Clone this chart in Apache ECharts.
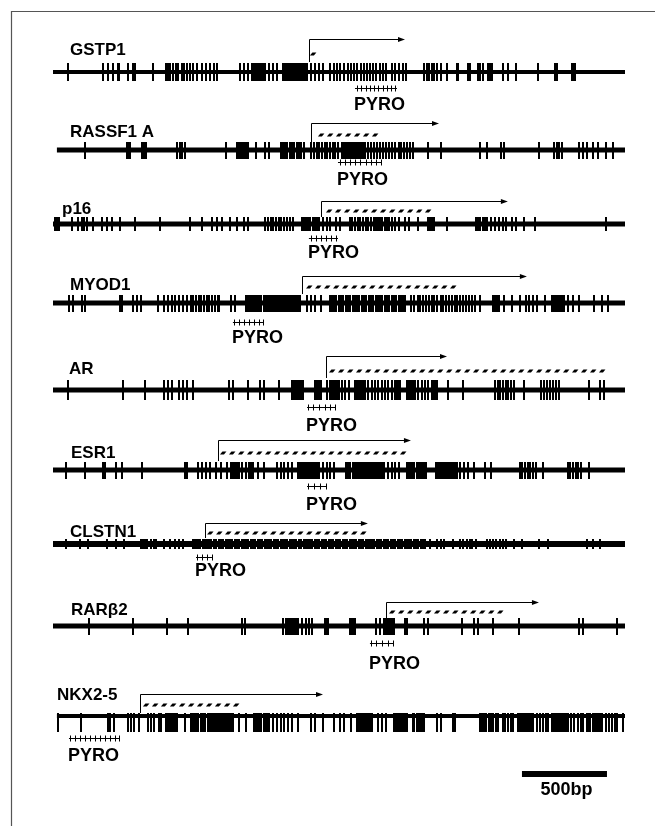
<!DOCTYPE html>
<html><head><meta charset="utf-8">
<script src="https://cdn.jsdelivr.net/npm/echarts@6/dist/echarts.min.js"></script>
<style>html,body{margin:0;padding:0;background:#fff}#c{width:655px;height:826px}</style>
</head><body><div id="c"></div>
<script>
// ---------------- DATA (positions in bp along each promoter region) ----------------
const genes = ['GSTP1', 'RASSF1 A', 'p16', 'MYOD1', 'AR', 'ESR1', 'CLSTN1', 'RARβ2', 'NKX2-5'];
const regionStart = [0, 23, 0, 0, 0, 0, 0, 0, 23];
const regionEnd   = [3364, 3364, 3364, 3364, 3364, 3364, 3364, 3364, 3364];
const tss       = [1503, 1517, 1576, 1464, 1605, 970, 894, 1958, 512];
const arrowEnd  = [2070, 2270, 2675, 2787, 2317, 2105, 1852, 2858, 1588];
const islandStart = [1505, 1552, 1599, 1482, 1617, 976, 900, 1970, 523];
const islandEnd   = [1545, 1923, 2264, 2393, 3252, 2093, 1846, 2675, 1094];
const pyroStart = [1776, 1676, 1505, 1058, 1494, 1494, 841, 1864, 94];
const pyroEnd   = [2023, 1934, 1676, 1235, 1664, 1611, 935, 2005, 394];
const pyroSites = [
  [1790, 1812, 1838, 1862, 1890, 1914, 1940, 1964, 1990, 2012],
  [1688, 1717, 1746, 1776, 1805, 1840, 1870, 1899, 1929],
  [1517, 1546, 1576, 1605, 1635, 1664],
  [1064, 1094, 1123, 1152, 1182, 1211, 1235],
  [1499, 1529, 1564, 1599, 1629, 1658],
  [1499, 1535, 1570, 1605],
  [847, 876, 906, 935],
  [1870, 1899, 1935, 1970, 1999],
  [100, 129, 159, 188, 218, 247, 276, 306, 335, 365, 388]
];
const cpgGSTP1 = [90, 296, 325, 351, 380, 387, 443, 472, 482, 590, 663, 669, 675, 682, 688, 704, 721, 737, 757, 770, 786, 806, 825, 845, 877, 900, 922, 945, 967, 1102, 1125, 1147, 1170, 1181, 1192, 1204, 1215, 1226, 1237, 1249, 1271, 1294, 1316, 1350, 1361, 1372, 1384, 1395, 1406, 1417, 1429, 1440, 1451, 1462, 1474, 1485, 1496, 1519, 1541, 1564, 1586, 1631, 1654, 1672, 1688, 1710, 1733, 1755, 1771, 1789, 1811, 1829, 1845, 1867, 1883, 1901, 1924, 1942, 1958, 1991, 2014, 2036, 2059, 2077, 2183, 2198, 2212, 2228, 2243, 2261, 2284, 2318, 2374, 2383, 2438, 2445, 2452, 2497, 2511, 2531, 2558, 2569, 2580, 2649, 2675, 2722, 2850, 2952, 2962, 3050, 3060, 3069];
const cpgRASSF1A = [187, 434, 443, 450, 524, 536, 547, 727, 749, 761, 776, 1019, 1080, 1091, 1103, 1114, 1125, 1136, 1148, 1193, 1249, 1271, 1339, 1352, 1366, 1379, 1393, 1406, 1420, 1433, 1447, 1460, 1474, 1519, 1534, 1550, 1566, 1582, 1597, 1613, 1629, 1645, 1660, 1676, 1699, 1710, 1721, 1732, 1744, 1755, 1766, 1777, 1789, 1800, 1811, 1822, 1834, 1852, 1870, 1888, 1906, 1924, 1942, 1960, 1978, 1996, 2014, 2032, 2048, 2063, 2081, 2099, 2115, 2205, 2284, 2509, 2554, 2633, 2655, 2858, 2948, 2963, 2977, 2993, 3094, 3116, 3139, 3173, 3206, 3251, 3296];
const cpgP16 = [12, 24, 35, 110, 149, 169, 184, 198, 237, 286, 315, 345, 394, 482, 629, 806, 874, 933, 963, 992, 1041, 1080, 1125, 1148, 1249, 1265, 1280, 1296, 1312, 1328, 1343, 1361, 1379, 1395, 1411, 1463, 1474, 1487, 1501, 1514, 1528, 1541, 1553, 1564, 1586, 1609, 1631, 1665, 1688, 1744, 1760, 1775, 1791, 1807, 1823, 1838, 1854, 1870, 1886, 1897, 1910, 1924, 1937, 1951, 1964, 1978, 1991, 2014, 2036, 2070, 2093, 2149, 2205, 2216, 2228, 2239, 2318, 2486, 2500, 2513, 2527, 2540, 2554, 2576, 2599, 2621, 2644, 2666, 2700, 2723, 2768, 2835, 3251];
const cpgMYOD1 = [97, 119, 169, 191, 394, 405, 473, 495, 518, 619, 653, 675, 698, 720, 743, 765, 788, 810, 826, 842, 857, 873, 889, 905, 920, 936, 952, 968, 979, 1046, 1069, 1136, 1148, 1159, 1170, 1181, 1193, 1204, 1215, 1226, 1238, 1249, 1260, 1271, 1283, 1294, 1305, 1316, 1328, 1339, 1350, 1361, 1373, 1384, 1395, 1406, 1418, 1429, 1440, 1451, 1496, 1519, 1541, 1575, 1627, 1640, 1654, 1667, 1681, 1694, 1708, 1721, 1735, 1748, 1762, 1775, 1789, 1802, 1816, 1829, 1843, 1856, 1870, 1883, 1897, 1910, 1924, 1937, 1951, 1964, 1978, 1991, 2005, 2018, 2032, 2045, 2059, 2072, 2108, 2126, 2144, 2160, 2176, 2194, 2212, 2228, 2243, 2261, 2279, 2295, 2311, 2329, 2347, 2363, 2378, 2396, 2414, 2430, 2446, 2464, 2482, 2509, 2588, 2599, 2610, 2621, 2655, 2700, 2745, 2779, 2801, 2824, 2846, 2891, 2936, 2948, 2959, 2970, 2981, 2993, 3004, 3026, 3060, 3094, 3184, 3229, 3263];
const cpgAR = [90, 412, 540, 653, 675, 698, 743, 765, 788, 821, 1035, 1058, 1148, 1215, 1238, 1328, 1406, 1418, 1429, 1440, 1451, 1462, 1472, 1541, 1548, 1555, 1562, 1569, 1576, 1609, 1629, 1638, 1647, 1658, 1666, 1674, 1682, 1698, 1717, 1742, 1776, 1782, 1788, 1794, 1800, 1806, 1812, 1818, 1824, 1830, 1835, 1854, 1874, 1893, 1913, 1933, 1952, 1972, 1992, 2011, 2020, 2030, 2040, 2080, 2086, 2092, 2098, 2104, 2110, 2116, 2122, 2129, 2148, 2168, 2187, 2207, 2227, 2237, 2247, 2256, 2325, 2413, 2599, 2615, 2630, 2646, 2662, 2677, 2693, 2711, 2768, 2869, 2887, 2905, 2923, 2941, 2959, 2977, 3150, 3218, 3240];
const cpgESR1 = [79, 191, 293, 304, 371, 405, 524, 776, 788, 855, 878, 900, 923, 956, 990, 1024, 1046, 1058, 1069, 1080, 1091, 1114, 1136, 1150, 1163, 1177, 1204, 1238, 1316, 1339, 1361, 1384, 1406, 1440, 1451, 1463, 1474, 1485, 1496, 1508, 1519, 1530, 1541, 1553, 1564, 1586, 1609, 1631, 1654, 1721, 1735, 1748, 1762, 1775, 1789, 1800, 1811, 1823, 1834, 1845, 1856, 1868, 1879, 1890, 1901, 1913, 1924, 1935, 1946, 1969, 1991, 2014, 2036, 2081, 2093, 2104, 2115, 2126, 2138, 2149, 2160, 2171, 2183, 2194, 2250, 2261, 2273, 2284, 2295, 2306, 2318, 2329, 2340, 2351, 2363, 2374, 2396, 2419, 2441, 2475, 2543, 2576, 2745, 2761, 2777, 2792, 2808, 2824, 2840, 2880, 3026, 3042, 3058, 3074, 3089, 3105, 3150];
const cpgCLSTN1 = [79, 158, 203, 315, 371, 416, 518, 529, 540, 551, 574, 596, 608, 653, 686, 720, 743, 765, 821, 830, 842, 855, 864, 880, 891, 905, 920, 932, 945, 959, 974, 986, 999, 1015, 1028, 1040, 1053, 1069, 1082, 1094, 1109, 1123, 1134, 1148, 1163, 1175, 1188, 1204, 1217, 1229, 1244, 1258, 1269, 1285, 1298, 1310, 1325, 1339, 1350, 1364, 1379, 1393, 1404, 1420, 1431, 1445, 1460, 1474, 1485, 1501, 1514, 1526, 1541, 1555, 1566, 1582, 1595, 1607, 1622, 1636, 1647, 1663, 1676, 1688, 1703, 1717, 1728, 1744, 1757, 1769, 1784, 1798, 1809, 1825, 1838, 1850, 1865, 1879, 1890, 1906, 1919, 1931, 1946, 1960, 1971, 1987, 2000, 2012, 2027, 2041, 2052, 2068, 2081, 2093, 2108, 2122, 2133, 2149, 2162, 2178, 2189, 2216, 2261, 2279, 2297, 2351, 2396, 2414, 2432, 2450, 2464, 2486, 2554, 2572, 2590, 2608, 2626, 2644, 2666, 2711, 2756, 2858, 2914, 3139, 3173, 3218];
const cpgRARB2 = [214, 468, 671, 794, 1114, 1132, 1350, 1373, 1384, 1395, 1406, 1418, 1429, 1440, 1463, 1485, 1508, 1523, 1598, 1607, 1616, 1744, 1755, 1766, 1778, 1901, 1924, 1946, 1958, 1969, 1980, 1991, 2003, 2070, 2081, 2183, 2205, 2408, 2475, 2498, 2588, 2738, 3094, 3116, 3319];
const cpgNKX25 = [29, 164, 322, 338, 360, 443, 461, 479, 506, 556, 574, 596, 623, 637, 664, 675, 686, 698, 709, 720, 731, 776, 810, 821, 833, 844, 855, 869, 882, 896, 909, 923, 934, 945, 956, 968, 979, 990, 1001, 1013, 1024, 1035, 1046, 1058, 1091, 1136, 1181, 1193, 1204, 1215, 1226, 1238, 1249, 1260, 1271, 1294, 1316, 1339, 1361, 1384, 1406, 1440, 1519, 1541, 1586, 1654, 1688, 1710, 1755, 1789, 1800, 1811, 1823, 1834, 1845, 1856, 1868, 1879, 1913, 1935, 1958, 2003, 2014, 2025, 2036, 2048, 2059, 2070, 2081, 2115, 2126, 2138, 2149, 2160, 2171, 2183, 2261, 2284, 2351, 2363, 2509, 2522, 2536, 2549, 2563, 2576, 2590, 2603, 2617, 2644, 2660, 2675, 2691, 2707, 2734, 2745, 2756, 2768, 2779, 2790, 2801, 2813, 2824, 2846, 2864, 2882, 2900, 2914, 2936, 2948, 2959, 2970, 2981, 2993, 3004, 3015, 3026, 3049, 3067, 3085, 3103, 3116, 3139, 3150, 3161, 3173, 3184, 3195, 3206, 3218, 3229, 3251, 3269, 3287, 3305, 3319, 3353];
const cpgLists = [cpgGSTP1, cpgRASSF1A, cpgP16, cpgMYOD1, cpgAR, cpgESR1, cpgCLSTN1, cpgRARB2, cpgNKX25];
const scaleBarBp = [2758, 3258];
const scaleBarLabel = '500bp';
const pyroLabel = 'PYRO';

// ---------------- LAYOUT (pixels) ----------------
const rowY      = [72, 150, 224, 303, 390, 470, 544, 626, 716];
const lineW     = [4, 5, 5, 5, 5, 5, 6, 5, 4];
const tickH     = [18, 17, 14, 17, 20, 17, 10, 17, 19];
const tickHang  = [false, false, false, false, false, false, false, false, true];
const labelDX   = [17, 17, 9, 17, 16, 18, 17, 18, 4];
const labelDY   = [-21.5, -18, -15, -18, -21, -17, -12, -16, -21];
const arrowDY   = [-33, -27, -23, -27, -34, -30, -21, -24, -22];
const stemDY    = [-10, -8, -7, -9, -12, -9, -6, -8, -3];
const hatchDY   = [-18, -15, -13, -16, -19, -17, -11, -14, -11];
const pyroDY    = [16, 12, 14, 19, 17, 16, 13, 17, 22];
const pyroTextDY= [33, 30, 29, 35, 36, 35, 27, 38, 40];
const scaleBarY = 774;

const FONT = '"Liberation Sans", Arial, Helvetica, sans-serif';

const tickData = [];
cpgLists.forEach((arr, g) => arr.forEach(v => tickData.push([v, g])));

function renderTick(params, api) {
  const g = api.value(1);
  const p = api.coord([api.value(0), rowY[g]]);
  const h = tickH[g];
  const y0 = tickHang[g] ? p[1] - 3 : p[1] - h / 2;
  return { type: 'rect', shape: { x: Math.round(p[0]) - 1, y: Math.round(y0), width: 2, height: h }, style: { fill: '#000' } };
}

function renderGene(params, api) {
  const g = params.dataIndex;
  const y = rowY[g];
  const c = [];
  const a = api.coord([regionStart[g], y]);
  const b = api.coord([regionEnd[g], y]);
  const zero = api.coord([0, y]);
  c.push({ type: 'rect', shape: { x: a[0], y: a[1] - lineW[g] / 2, width: b[0] - a[0], height: lineW[g] }, style: { fill: '#000' } });
  c.push({ type: 'text', style: { text: genes[g], x: zero[0] + labelDX[g], y: y + labelDY[g], font: 'bold 17px ' + FONT, fill: '#000', verticalAlign: 'middle', align: 'left' } });
  // transcription start arrow
  const t = Math.round(api.coord([tss[g], y])[0]) + 0.5;
  const e = api.coord([arrowEnd[g], y])[0];
  const ay = Math.round(y + arrowDY[g]) + 0.5;
  c.push({ type: 'polyline', shape: { points: [[t, y + stemDY[g]], [t, ay], [e - 5, ay]] }, style: { stroke: '#000', lineWidth: 1, fill: null } });
  c.push({ type: 'polygon', shape: { points: [[e, ay], [e - 7, ay - 2.5], [e - 7, ay + 2.5]] }, style: { fill: '#000' } });
  // CpG island hatched bar
  const hs = api.coord([islandStart[g], y])[0];
  const he = api.coord([islandEnd[g], y])[0];
  const hy = y + hatchDY[g];
  for (let x = hs + 1; x + 6 <= he + 0.5; x += 9) {
    c.push({ type: 'polygon', shape: { points: [[x, hy + 1.6], [x + 2.5, hy - 1.6], [x + 6.5, hy - 1.6], [x + 4, hy + 1.6]] }, style: { fill: '#000' } });
  }
  // pyrosequencing region
  const ps = api.coord([pyroStart[g], y])[0];
  const pe = api.coord([pyroEnd[g], y])[0];
  const py = Math.round(y + pyroDY[g]) + 0.5;
  c.push({ type: 'line', shape: { x1: ps, y1: py, x2: pe, y2: py }, style: { stroke: '#000', lineWidth: 1 } });
  pyroSites[g].forEach(s => {
    const sx = Math.round(api.coord([s, y])[0]) + 0.5;
    c.push({ type: 'line', shape: { x1: sx, y1: py - 3, x2: sx, y2: py + 3 }, style: { stroke: '#000', lineWidth: 1 } });
  });
  c.push({ type: 'text', style: { text: pyroLabel, x: ps - 1, y: y + pyroTextDY[g], font: 'bold 18px ' + FONT, fill: '#000', verticalAlign: 'middle', align: 'left' } });
  return { type: 'group', children: c };
}

function renderScale(params, api) {
  const a = api.coord([scaleBarBp[0], scaleBarY]);
  const b = api.coord([scaleBarBp[1], scaleBarY]);
  return { type: 'group', children: [
    { type: 'rect', shape: { x: a[0], y: a[1] - 3, width: b[0] - a[0], height: 6 }, style: { fill: '#000' } },
    { type: 'text', style: { text: scaleBarLabel, x: (a[0] + b[0]) / 2 + 2, y: a[1] + 16, font: 'bold 18px ' + FONT, fill: '#000', align: 'center', verticalAlign: 'middle' } }
  ] };
}

const chart = echarts.init(document.getElementById('c'), null, { renderer: 'canvas' });
chart.setOption({
  animation: false,
  backgroundColor: '#fff',
  grid: { left: 53, right: 30, top: 0, bottom: 0, containLabel: false },
  xAxis: { type: 'value', min: 0, max: 3364, show: false },
  yAxis: { type: 'value', min: 0, max: 826, inverse: true, show: false },
  graphic: [
    { type: 'line', shape: { x1: 11, y1: 11.5, x2: 655, y2: 11.5 }, style: { stroke: '#555', lineWidth: 1.2 } },
    { type: 'line', shape: { x1: 11.5, y1: 11, x2: 11.5, y2: 826 }, style: { stroke: '#555', lineWidth: 1.2 } }
  ],
  series: [
    { type: 'custom', name: 'genes', renderItem: renderGene, data: genes.map((n, i) => [regionStart[i], rowY[i]]), silent: true, clip: false },
    { type: 'custom', name: 'CpG', renderItem: renderTick, data: tickData, silent: true, clip: false },
    { type: 'custom', name: 'scale', renderItem: renderScale, data: [[scaleBarBp[0], scaleBarY]], silent: true, clip: false }
  ]
});
</script></body></html>
